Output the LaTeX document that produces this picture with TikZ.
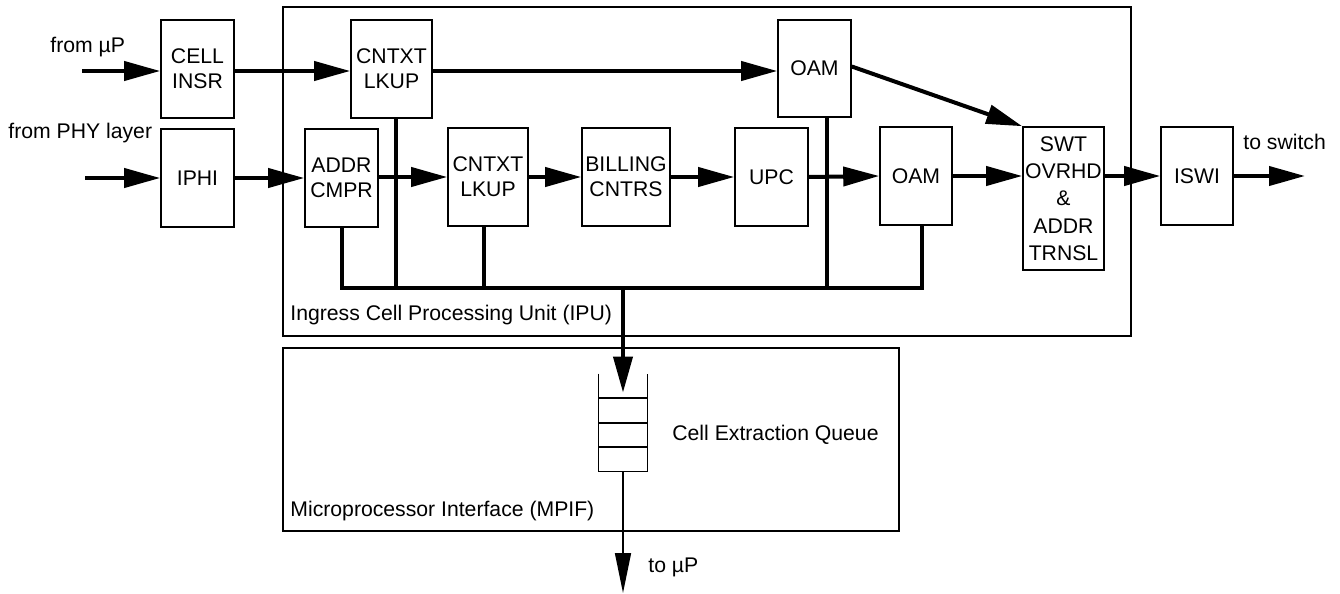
\documentclass[tikz,border=0pt]{standalone}
\usepackage{fontspec}
\setmainfont{Liberation Sans}
\usetikzlibrary{arrows.meta, positioning}

\begin{document}
\begin{tikzpicture}[x=0.5pt, y=-0.5pt,
    blk/.style={draw, line width=0.8pt, align=center, inner sep=1pt, font=\fontsize{10.6}{12.5}\selectfont},
    flow/.style={line width=2pt, -{Triangle[length=18pt, width=9.5pt]}},
    thinflow/.style={line width=0.8pt, -{Triangle[length=20pt, width=8pt]}},
    bus/.style={line width=2pt},
    frame/.style={line width=0.8pt},
    lbl/.style={font=\fontsize{10.6}{12.5}\selectfont, inner sep=0pt}]
  \useasboundingbox (0,0) rectangle (1340,594);

  % unit frames
  \draw[frame] (283,7) rectangle (1131,336);
  \draw[frame] (283,348) rectangle (899,531);
  \node[lbl, anchor=west] (ipu) at (290,315) {Ingress Cell Processing Unit (IPU)};
  \node[lbl, anchor=west] (mpif) at (290,511) {Microprocessor Interface (MPIF)};

  % blocks
  \node[blk, minimum width=36.5pt, minimum height=49pt] (insr) at (197.5,69) {CELL\\INSR};
  \node[blk, minimum width=36.5pt, minimum height=49pt] (iphi) at (197.5,178) {IPHI};
  \node[blk, minimum width=40.5pt, minimum height=49pt] (lkupa) at (391.5,69) {CNTXT\\LKUP};
  \node[blk, minimum width=36.5pt, minimum height=49pt] (addr) at (341.5,178) {ADDR\\CMPR};
  \node[blk, minimum width=40pt, minimum height=49pt] (lkupb) at (488,177) {CNTXT\\LKUP};
  \node[blk, minimum width=44pt, minimum height=49pt] (bill) at (626,177) {BILLING\\CNTRS};
  \node[blk, minimum width=36.5pt, minimum height=49pt] (upc) at (771.5,177) {UPC};
  \node[blk, minimum width=36.5pt, minimum height=48.5pt] (oama) at (814.5,68.5) {OAM};
  \node[blk, minimum width=36pt, minimum height=49pt] (oamb) at (916,176) {OAM};
  \node[blk, minimum width=40.5pt, minimum height=71.5pt,
        font=\fontsize{10.6}{13.6}\selectfont] (swt) at (1063.5,198.5) {SWT\\OVRHD\\\&\\ADDR\\TRNSL};
  \node[blk, minimum width=36pt, minimum height=49pt] (iswi) at (1197,176) {ISWI};

  % queue
  \node[minimum width=24pt, minimum height=48.5pt, inner sep=0pt] (queue) at (623,422.5) {};
  \draw[frame] (queue.north west) -- (queue.south west) -- (queue.south east) -- (queue.north east);
  \foreach \yy in {398,423,447}
    \draw[frame] (queue.west |- 0,\yy) -- (queue.east |- 0,\yy);
  \node[lbl, anchor=west] (qlbl) at (672,435) {Cell Extraction Queue};

  % free ends
  \coordinate (upin) at (82,71);
  \coordinate (phyin) at (85,178);
  \coordinate (swout) at (1305,176);
  \coordinate (upout) at (623,593);
  \coordinate (bus) at (623,288);
  \node[lbl, anchor=west] at (50,47) {from µP};
  \node[lbl, anchor=west] at (8,133) {from PHY layer};
  \node[lbl, anchor=west] at (1243,142) {to switch};
  \node[lbl, anchor=west] at (648,567) {to µP};

  % top path
  \draw[flow] (upin) -- (insr.west |- upin);
  \draw[flow] (insr.east |- upin) -- (lkupa.west |- upin);
  \draw[flow] (lkupa.east |- upin) -- (oama.west |- upin);
  \draw[flow] ([yshift=1pt]oama.east) -- (swt.north west);

  % main path
  \draw[flow] (phyin) -- (iphi.west);
  \draw[flow] (iphi.east) -- (addr.west);
  \draw[flow] (addr.east |- lkupb.west) -- (lkupb.west);
  \draw[flow] (lkupb.east) -- (bill.west);
  \draw[flow] (bill.east) -- (upc.west);
  \draw[flow] (upc.east) -- (oamb.west);
  \draw[flow] (oamb.east) -- (swt.west |- oamb.east);
  \draw[flow] (swt.east |- iswi.west) -- (iswi.west);
  \draw[flow] (iswi.east) -- (swout);

  % bus
  \draw[bus] (addr.south) -- (addr.south |- bus) -- ([xshift=3pt]oamb.south |- bus) -- ([xshift=3pt]oamb.south);
  \draw[bus] ([xshift=2.25pt]lkupa.south) -- ([xshift=2.25pt]lkupa.south |- bus);
  \draw[bus] ([xshift=-2pt]lkupb.south) -- ([xshift=-2pt]lkupb.south |- bus);
  \draw[bus] ([xshift=6.25pt]oama.south) -- ([xshift=6.25pt]oama.south |- bus);
  \draw[flow] (bus) -- ([yshift=-9.5pt]queue.north);
  \draw[thinflow] (queue.south) -- (upout);
\end{tikzpicture}
\end{document}
